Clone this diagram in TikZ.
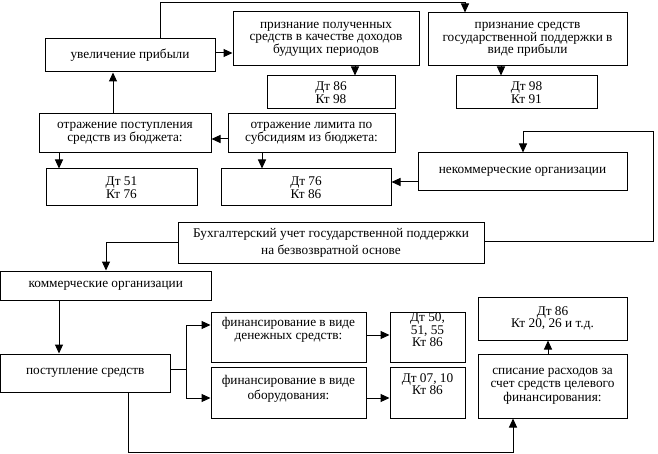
\documentclass[tikz,border=0pt]{standalone}
\usepackage{fontspec}
\setmainfont{Liberation Serif}
\usetikzlibrary{arrows.meta}
\tikzset{
 box/.style={draw, line width=1pt, inner sep=0pt, align=center, font=\fontsize{13.3}{12.5}\selectfont},
 arr/.style={draw, line width=1pt, -{Triangle[length=9pt,width=8pt]}},
 conn/.style={draw, line width=1pt},
 txt/.style={inner sep=0pt, align=center, font=\fontsize{13.3}{12.5}\selectfont}
}
\newcommand\bx[7][]{\node[box,minimum width={(#5-#3)*1pt},minimum height={(#6-#4)*1pt},#1] (#2) at ({(#3+#5)/2},{(#4+#6)/2}) {#7};}
\begin{document}
\begin{tikzpicture}[x=1pt,y=-1pt]
\fill[white] (0,0) rectangle (658,454);
\useasboundingbox (0,0) rectangle (658,454);
\bx{uv}{45}{39}{215}{72}{увеличение прибыли}
\bx{pp}{233}{12}{419}{66}{признание полученных\\средств в качестве доходов\\будущих периодов}
\bx{d86}{267}{76}{395}{109}{Дт 86\\Кт 98}
\bx{pg}{428}{13}{627}{66}{признание средств\\государственной поддержки в\\виде прибыли}
\bx{d98}{456}{76}{597}{109}{Дт 98\\Кт 91}
\bx{op}{39}{114}{211}{153}{отражение поступления\\средств из бюджета:}
\bx{ol}{228}{114}{395}{153}{отражение лимита по\\субсидиям из бюджета:}
\bx{d51}{46}{169}{197}{206}{Дт 51\\Кт 76}
\bx{d76}{221}{169}{391}{206}{Дт 76\\Кт 86}
\bx{nk}{418}{153}{627}{191}{некоммерческие организации}
\bx[font=\fontsize{13.3}{17}\selectfont]{buh}{178}{223}{484}{263}{Бухгалтерский учет государственной поддержки\\на безвозвратной основе}
\bx{kom}{0.5}{271}{211}{300}{коммерческие организации}
\bx{post}{0.5}{354}{170}{392}{поступление средств}
\bx{fd}{211}{312}{366}{362}{}
\bx{fo}{211}{367}{366}{418}{}
\bx{d50}{390}{312}{465}{362}{}
\bx{d07}{390}{367}{465}{418}{}
\bx{d8620}{478}{297}{627}{340}{Дт 86\\Кт 20, 26 и т.д.}
\bx[font=\fontsize{13.3}{13.5}\selectfont]{sp}{478}{354}{627}{418}{списание расходов за\\счет средств целевого\\финансирования:}
\node[txt] (fdt) at (288.5,330) {финансирование в виде\\денежных средств:};
\node[txt,font=\fontsize{13.3}{15}\selectfont] (fot) at (288.5,389) {финансирование в виде\\оборудования:};
\node[txt] (d50t) at (427.5,330) {Дт 50,\\51, 55\\Кт 86};
\node[txt] (d07t) at (427.5,384) {Дт 07, 10\\Кт 86};
% connectors
\coordinate (a1) at (160,3); \coordinate (a2) at (465,3);
\draw[arr] (uv.north -| a1) -- (a1) -- (a2) -- (pg.north -| a2);
\coordinate (a3) at (0,53);
\draw[arr] (uv.east |- a3) -- (pp.west |- a3);
\coordinate (a4) at (355,0); \draw[arr] (pp.south -| a4) -- (d86.north -| a4);
\coordinate (a5) at (501,0); \draw[arr] (pg.south -| a5) -- (d98.north -| a5);
\coordinate (a6) at (113,0); \draw[arr] (op.north -| a6) -- (uv.south -| a6);
\coordinate (a7) at (0,139); \draw[arr] (ol.west |- a7) -- (op.east |- a7);
\coordinate (a8) at (59,0); \draw[arr] (op.south -| a8) -- (d51.north -| a8);
\coordinate (a9) at (262,0); \draw[arr] (ol.south -| a9) -- (d76.north -| a9);
\coordinate (a10) at (0,182); \draw[arr] (nk.west |- a10) -- (d76.east |- a10);
\coordinate (b0) at (653,242); \coordinate (b1) at (653,132); \coordinate (b2) at (523,132);
\draw[arr] (buh.east |- b0) -- (b0) -- (b1) -- (b2) -- (nk.north -| b2);
\coordinate (b3) at (106,243);
\draw[arr] (buh.west |- b3) -- (b3) -- (kom.north -| b3);
\coordinate (b4) at (59,0); \draw[arr] (kom.south -| b4) -- (post.north -| b4);
\coordinate (c0) at (186,369); \coordinate (c1) at (186,325); \coordinate (c2) at (186,398);
\draw[conn] (post.east |- c0) -- (c0);
\draw[arr] (c0) -- (c1) -- (fd.west |- c1);
\draw[arr] (c0) -- (c2) -- (fo.west |- c2);
\coordinate (c3) at (0,335); \draw[arr] (fd.east |- c3) -- (d50.west |- c3);
\coordinate (c4) at (0,398); \draw[arr] (fo.east |- c4) -- (d07.west |- c4);
\coordinate (c5) at (128,452); \coordinate (c6) at (513,452);
\draw[arr] (post.south -| c5) -- (c5) -- (c6) -- (sp.south -| c6);
\coordinate (c7) at (548,0); \draw[arr] (sp.north -| c7) -- (d8620.south -| c7);
\end{tikzpicture}
\end{document}
